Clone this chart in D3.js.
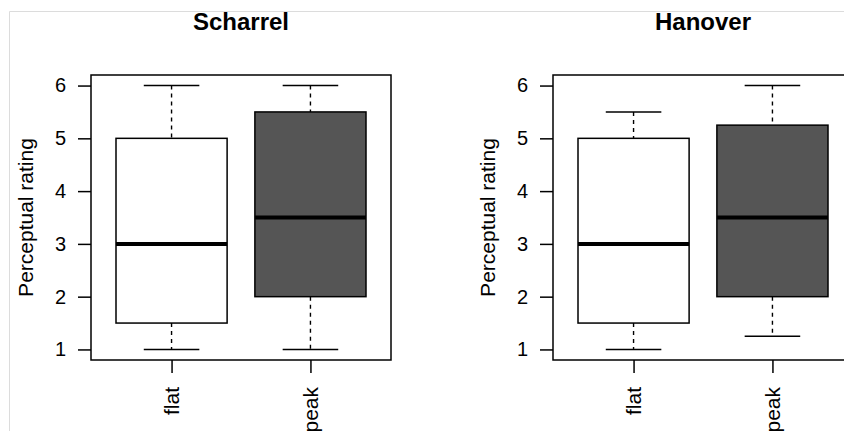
<!DOCTYPE html>
<html>
<head>
<meta charset="utf-8">
<script src="https://cdn.jsdelivr.net/npm/d3@7"></script>
<style>
  body { margin: 0; background: #fff; }
  svg { display: block; }
  text { font-family: "Liberation Sans", Arial, sans-serif; }
</style>
</head>
<body>
<div class="canvas"></div>
<script>
// data
const sites = ['Scharrel', 'Hanover'];
const groups = ['flat', 'peak'];
const groupFill = ['#ffffff', '#555555'];
// five-number summaries per site: [min, q1, median, q3, max]
const scharrel = [[1, 1.5, 3, 5, 6], [1, 2, 3.5, 5.5, 6]];
const hanover = [[1, 1.5, 3, 5, 5.5], [1.25, 2, 3.5, 5.25, 6]];
const yTicks = [1, 2, 3, 4, 5, 6];
const siteData = [scharrel, hanover];

const svg = d3.select('.canvas')
    .append('svg')
    .attr('width', 844)
    .attr('height', 431);

// faint frame of the original image
svg.append('path')
    .attr('d', 'M9.5,431V11.5H844')
    .attr('fill', 'none')
    .attr('stroke', '#dcdcdc')
    .attr('stroke-width', 1);

const plotW = 300;
const plotH = 285;
const plotTop = 75;

const y = d3.scaleLinear()
    .domain([0.8, 6.2])
    .range([plotH, 0]);

const x = d3.scaleLinear()
    .domain([0.42, 2.58])
    .range([0, plotW]);

const boxW = x(1.4) - x(1);
const capW = x(1.2) - x(1);

sites.forEach((site, si) => {
    const left = 91 + si * 462;
    const g = svg.append('g')
        .attr('transform', `translate(${left},${plotTop})`);

    // title
    g.append('text')
        .attr('x', plotW / 2)
        .attr('y', 30 - plotTop)
        .attr('text-anchor', 'middle')
        .attr('font-size', 24)
        .attr('font-weight', 'bold')
        .text(site);

    // y axis label
    g.append('text')
        .attr('transform', `translate(${33 - 91},${y(3.5)}) rotate(-90)`)
        .attr('text-anchor', 'middle')
        .attr('font-size', 21)
        .text('Perceptual rating');

    // boxes
    siteData[si].forEach((s, i) => {
        const cx = x(i + 1);
        const [mn, q1, med, q3, mx] = s;
        // whiskers
        g.append('line')
            .attr('x1', cx).attr('x2', cx)
            .attr('y1', y(mx)).attr('y2', y(q3))
            .attr('stroke', '#000').attr('stroke-width', 1.4)
            .attr('stroke-dasharray', '4,4');
        g.append('line')
            .attr('x1', cx).attr('x2', cx)
            .attr('y1', y(q1)).attr('y2', y(mn))
            .attr('stroke', '#000').attr('stroke-width', 1.4)
            .attr('stroke-dasharray', '4,4');
        [mn, mx].forEach(v => {
            g.append('line')
                .attr('x1', cx - capW).attr('x2', cx + capW)
                .attr('y1', y(v)).attr('y2', y(v))
                .attr('stroke', '#000').attr('stroke-width', 1.5);
        });
        g.append('rect')
            .attr('x', cx - boxW)
            .attr('y', y(q3))
            .attr('width', boxW * 2)
            .attr('height', y(q1) - y(q3))
            .attr('fill', groupFill[i])
            .attr('stroke', '#000')
            .attr('stroke-width', 1.5);
        g.append('line')
            .attr('x1', cx - boxW).attr('x2', cx + boxW)
            .attr('y1', y(med)).attr('y2', y(med))
            .attr('stroke', '#000').attr('stroke-width', 4);
    });

    // plot frame
    g.append('rect')
        .attr('width', plotW)
        .attr('height', plotH)
        .attr('fill', 'none')
        .attr('stroke', '#000')
        .attr('stroke-width', 1.5);

    // axes
    const yAxis = d3.axisLeft(y)
        .tickValues(yTicks)
        .tickFormat(d3.format('d'))
        .tickSize(13)
        .tickPadding(12);
    const yg = g.append('g').call(yAxis);
    yg.attr('font-size', 20).attr('font-family', '"Liberation Sans", Arial, sans-serif');
    yg.select('.domain').remove();
    yg.selectAll('line').attr('stroke-width', 1.5);
    yg.selectAll('text').attr('fill', '#000');

    const xAxis = d3.axisBottom(x)
        .tickValues([1, 2])
        .tickFormat((d, i) => groups[i])
        .tickSize(13);
    const xg = g.append('g')
        .attr('transform', `translate(0,${plotH})`)
        .call(xAxis);
    xg.attr('font-size', 21).attr('font-family', '"Liberation Sans", Arial, sans-serif');
    xg.select('.domain').remove();
    xg.selectAll('line').attr('stroke-width', 1.5);
    xg.selectAll('text')
        .attr('fill', '#000')
        .attr('transform', 'rotate(-90)')
        .attr('text-anchor', 'end')
        .attr('x', -27)
        .attr('y', 0)
        .attr('dy', '0.35em');
});
</script>
</body>
</html>
